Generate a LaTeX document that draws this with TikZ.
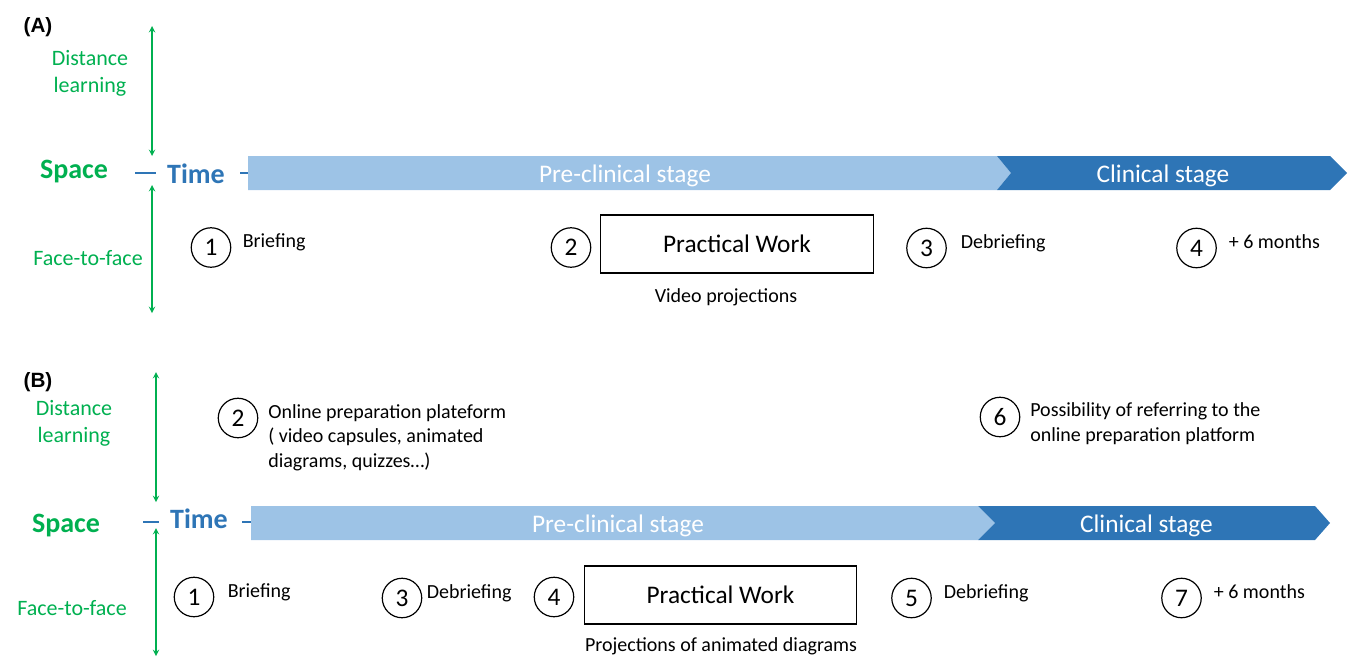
\documentclass[tikz,border=0pt]{standalone}
\usepackage{fontspec}
\setmainfont{Carlito}
\newfontfamily\panelfont{Liberation Sans}
\usepackage{tikz}
\usetikzlibrary{positioning, arrows}
\definecolor{spacegreen}{HTML}{00B050}
\definecolor{timeblue}{HTML}{2E75B6}
\definecolor{preblue}{HTML}{9DC3E6}
\definecolor{clinblue}{HTML}{2E75B6}
\tikzstyle{arrow} = [line width=1.1pt,<->,>=stealth,draw=spacegreen]
\tikzstyle{timetick} = [line width=0.9pt,draw=timeblue]
\tikzstyle{num} = [circle, draw=black, line width=0.9pt, minimum size=29.6pt, inner sep=0pt, font=\fontsize{19}{19}\selectfont]
\tikzstyle{note} = [inner sep=0pt, align=left, font=\fontsize{15}{18.2}\selectfont]
\tikzstyle{task} = [rectangle, draw=black, line width=0.9pt, minimum width=204.5pt, minimum height=43.5pt, font=\fontsize{19}{19}\selectfont]
\tikzstyle{stagetext} = [inner sep=0pt, anchor=base, text=white, font=\fontsize{19}{19}\selectfont]
\tikzstyle{modelabel} = [inner sep=0pt, align=center, text=spacegreen, font=\fontsize{16.5}{20.3}\selectfont]
\tikzstyle{spacelabel} = [inner sep=0pt, anchor=base, text=spacegreen, font=\bfseries\fontsize{21}{21}\selectfont]
\tikzstyle{timelabel} = [inner sep=0pt, anchor=base, text=timeblue, font=\bfseries\fontsize{21}{21}\selectfont]
\tikzstyle{panel} = [inner sep=0pt, anchor=base, font=\panelfont\bfseries\fontsize{15.5}{15.5}\selectfont]

\begin{document}
\begin{tikzpicture}[x=0.75pt,y=-0.75pt]
\useasboundingbox (0,0) rectangle (1348,657);

% (A) current practice
\node (pA) [panel] at (38,32) {(A)};
\node (dlA) [modelabel] at (90,73.6) {Distance\\learning};
\node (ffA) [modelabel, anchor=base] at (88,265) {Face-to-face};
\node (spA) [spacelabel] at (74,178) {Space};
\node (tiA) [timelabel] at (196,183) {Time};
\coordinate (upAt) at (152,26);
\coordinate (upAb) at (152,156);
\coordinate (loAt) at (152,185);
\coordinate (loAb) at (152,313);
\draw [arrow] (upAt) -- (upAb);
\draw [arrow] (loAt) -- (loAb);
\draw [timetick] (135,173) -- (156,173);
\draw [timetick] (240,173) -- (249,173);

\fill [preblue] (248,156) -- (997,156) -- (1011,173) -- (997,190) -- (248,190) -- cycle;
\fill [clinblue] (997,156) -- (1330,156) -- (1347,173) -- (1330,190) -- (997,190) -- (1011,173) -- cycle;
\node (preA) [stagetext] at (625,182) {Pre-clinical stage};
\node (cliA) [stagetext] at (1163,182) {Clinical stage};

\node (a1) [num] at (211,247.5) {1};
\node (a1t) [note, right=8.4pt of a1, anchor=base west] {Briefing};
\node (a2) [num] at (571,247.5) {2};
\node (pwA) [task] at (737,244) {Practical Work};
\node (vpA) [note, anchor=base] at (726,302) {Video projections};
\node (a3) [num] at (926.5,248) {3};
\node (a3t) [note, right=10.3pt of a3, anchor=base west] {Debriefing};
\node (a4) [num] at (1196.5,248) {4};
\node (a4t) [note, right=8.8pt of a4, anchor=base west] {+ 6 months};

% (B) with the online platform
\node (pB) [panel] at (38,387) {(B)};
\node (dlB) [modelabel] at (74,423.6) {Distance\\learning};
\node (ffB) [modelabel, anchor=base] at (72,615) {Face-to-face};
\node (spB) [spacelabel] at (66,532) {Space};
\node (tiB) [timelabel] at (199,528) {Time};
\coordinate (upBt) at (156,372);
\coordinate (upBb) at (156,502);
\coordinate (loBt) at (156,528);
\coordinate (loBb) at (156,656);
\draw [arrow] (upBt) -- (upBb);
\draw [arrow] (loBt) -- (loBb);
\draw [timetick] (143,522) -- (159,522);
\draw [timetick] (242,522) -- (252,522);

\fill [preblue] (251,506) -- (978,506) -- (995,523) -- (978,540) -- (251,540) -- cycle;
\fill [clinblue] (978,506) -- (1315,506) -- (1330,523) -- (1315,540) -- (978,540) -- (995,523) -- cycle;
\node (preB) [stagetext] at (618,532) {Pre-clinical stage};
\node (cliB) [stagetext] at (1146.5,532) {Clinical stage};

\node (b2) [num] at (238,418) {2};
\node (b2t) [note, anchor=base west] at (268,467) {Online preparation plateform\\( video capsules, animated\\diagrams, quizzes\dots)};
\node (b6) [num] at (1000,417) {6};
\node (b6t) [note, anchor=base west] at (1030,441) {Possibility of referring to the\\online preparation platform};

\node (b1) [num] at (194,597) {1};
\node (b1t) [note, right=9.9pt of b1, anchor=base west] {Briefing};
\node (b3) [num] at (402,598) {3};
\node (b3t) [note, right=3.2pt of b3, anchor=base west] {Debriefing};
\node (b4) [num] at (554,597) {4};
\node (pwB) [task] at (720.5,595) {Practical Work};
\node (paB) [note, anchor=base] at (721,651) {Projections of animated diagrams};
\node (b5) [num] at (911.5,598) {5};
\node (b5t) [note, right=8.8pt of b5, anchor=base west] {Debriefing};
\node (b7) [num] at (1181.5,598) {7};
\node (b7t) [note, right=8.8pt of b7, anchor=base west] {+ 6 months};
\end{tikzpicture}
\end{document}
